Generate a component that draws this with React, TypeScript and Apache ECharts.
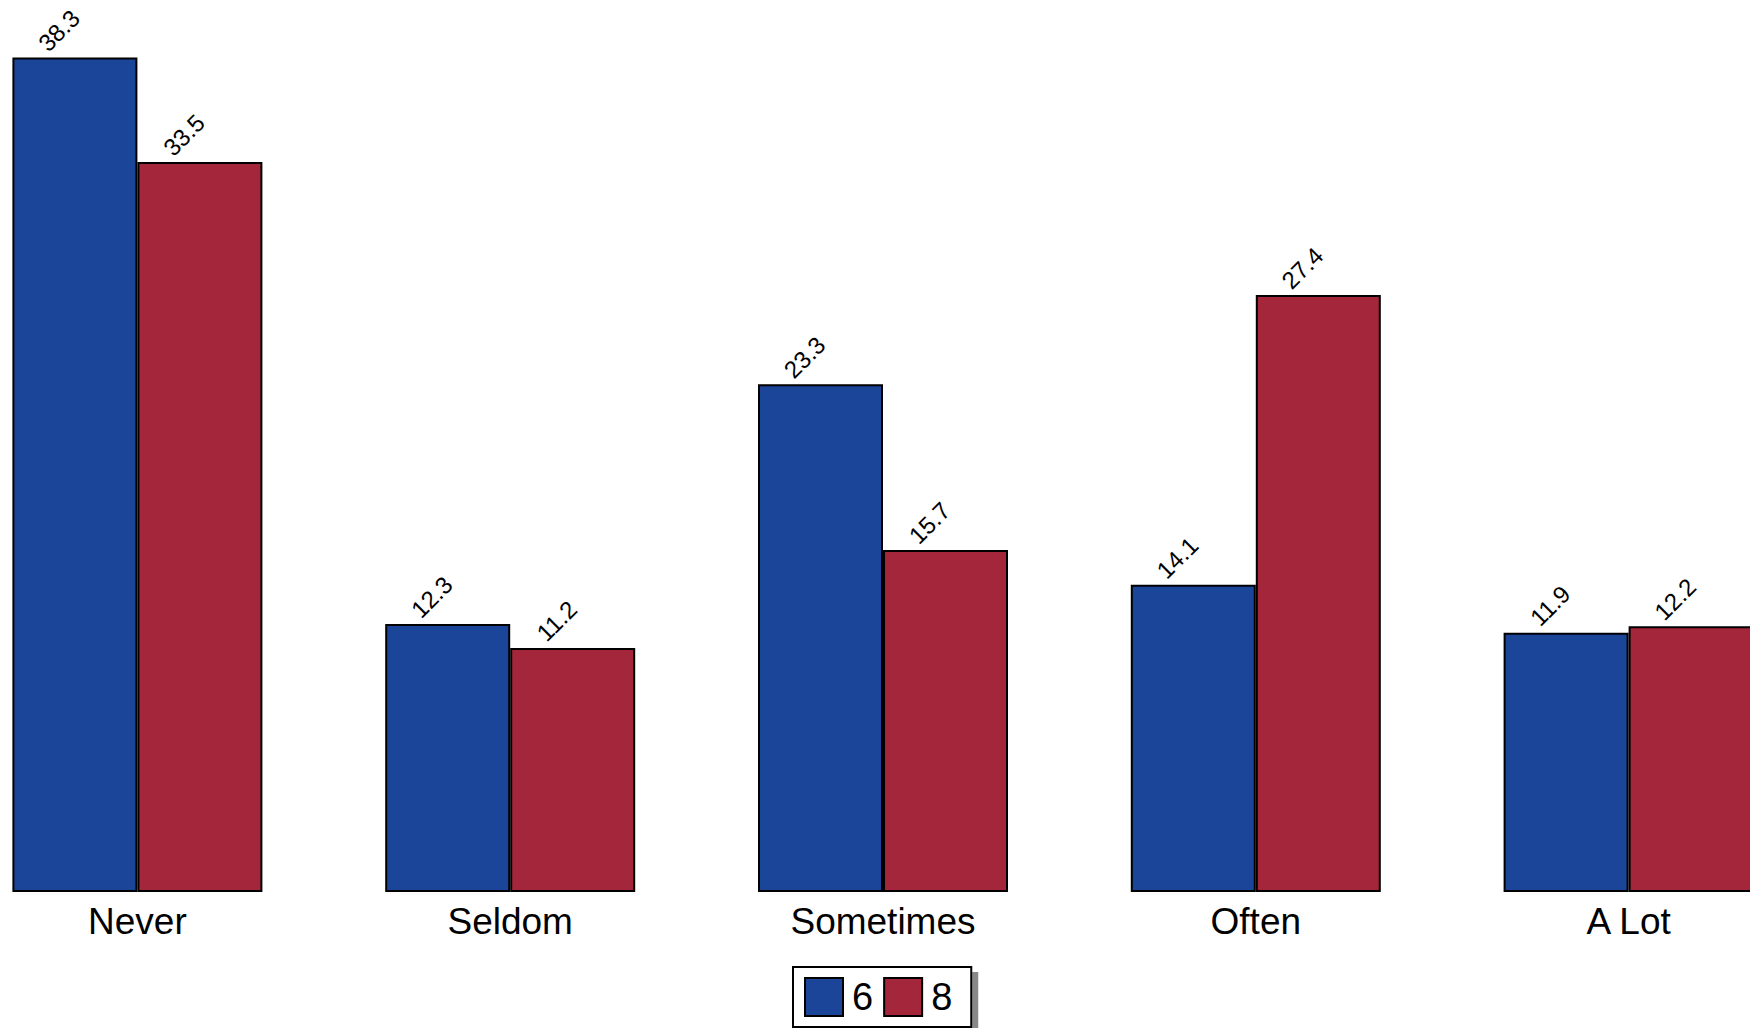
import React, { useEffect, useRef } from "react";
import * as echarts from "echarts";

const categories = ["Never", "Seldom", "Sometimes", "Often", "A Lot"];
const seriesNames = ["6", "8"];
const values6 = [38.3, 12.3, 23.3, 14.1, 11.9];
const values8 = [33.5, 11.2, 15.7, 27.4, 12.2];
const colors = ["#1a4599", "#a3263a"];

const FONT = "'Liberation Sans', Arial, Helvetica, sans-serif";
const SHIFT = 49;
const INNER_W = 1864;

export default function App() {
  const ref = useRef<HTMLDivElement>(null);
  useEffect(() => {
    if (!ref.current) return;
    const chart = echarts.init(ref.current, null, { renderer: "svg" });
    const label = {
      show: true,
      position: ["50%", 0],
      align: "center",
      verticalAlign: "middle",
      rotate: 45,
      offset: [7.8, -30.4],
      fontSize: 24,
      fontFamily: FONT,
      color: "#000",
      formatter: (p: any) => p.value.toFixed(1),
    };
    const mk = (i: number, data: number[]) => ({
      name: seriesNames[i],
      type: "bar",
      data,
      barWidth: 125,
      barGap: "0%",
      itemStyle: { color: colors[i], borderColor: "#000", borderWidth: 2 },
      label,
    });
    chart.setOption({
      animation: false,
      backgroundColor: "#fff",
      grid: { left: 0, right: 0, top: 0, height: 892, containLabel: false },
      xAxis: {
        type: "category",
        data: categories,
        axisLine: { show: false },
        axisTick: { show: false },
        axisLabel: { fontSize: 37, fontFamily: FONT, color: "#000", margin: 11 },
      },
      yAxis: { type: "value", min: 0, max: 40.94, show: false, splitLine: { show: false } },
      legend: {
        data: seriesNames,
        left: 793 + SHIFT,
        top: 967,
        orient: "horizontal",
        icon: "rect",
        itemWidth: 38,
        itemHeight: 38,
        itemGap: 10,
        padding: [10, 19, 10, 11],
        backgroundColor: "#fff",
        borderColor: "#000",
        borderWidth: 2,
        shadowColor: "#888",
        shadowBlur: 0,
        shadowOffsetX: 6,
        shadowOffsetY: 6,
        textStyle: { fontSize: 38, fontFamily: FONT, color: "#000", padding: [0, 0, 0, 4] },
      },
      series: [mk(0, values6), mk(1, values8)],
    });
    return () => chart.dispose();
  }, []);
  return (
    <div
      style={{
        position: "fixed",
        left: 0,
        top: 0,
        width: 1750,
        height: 1028,
        overflow: "hidden",
        background: "#fff",
      }}
    >
      <div
        ref={ref}
        style={{ position: "absolute", left: -SHIFT, top: 0, width: INNER_W, height: 1028 }}
      />
    </div>
  );
}
